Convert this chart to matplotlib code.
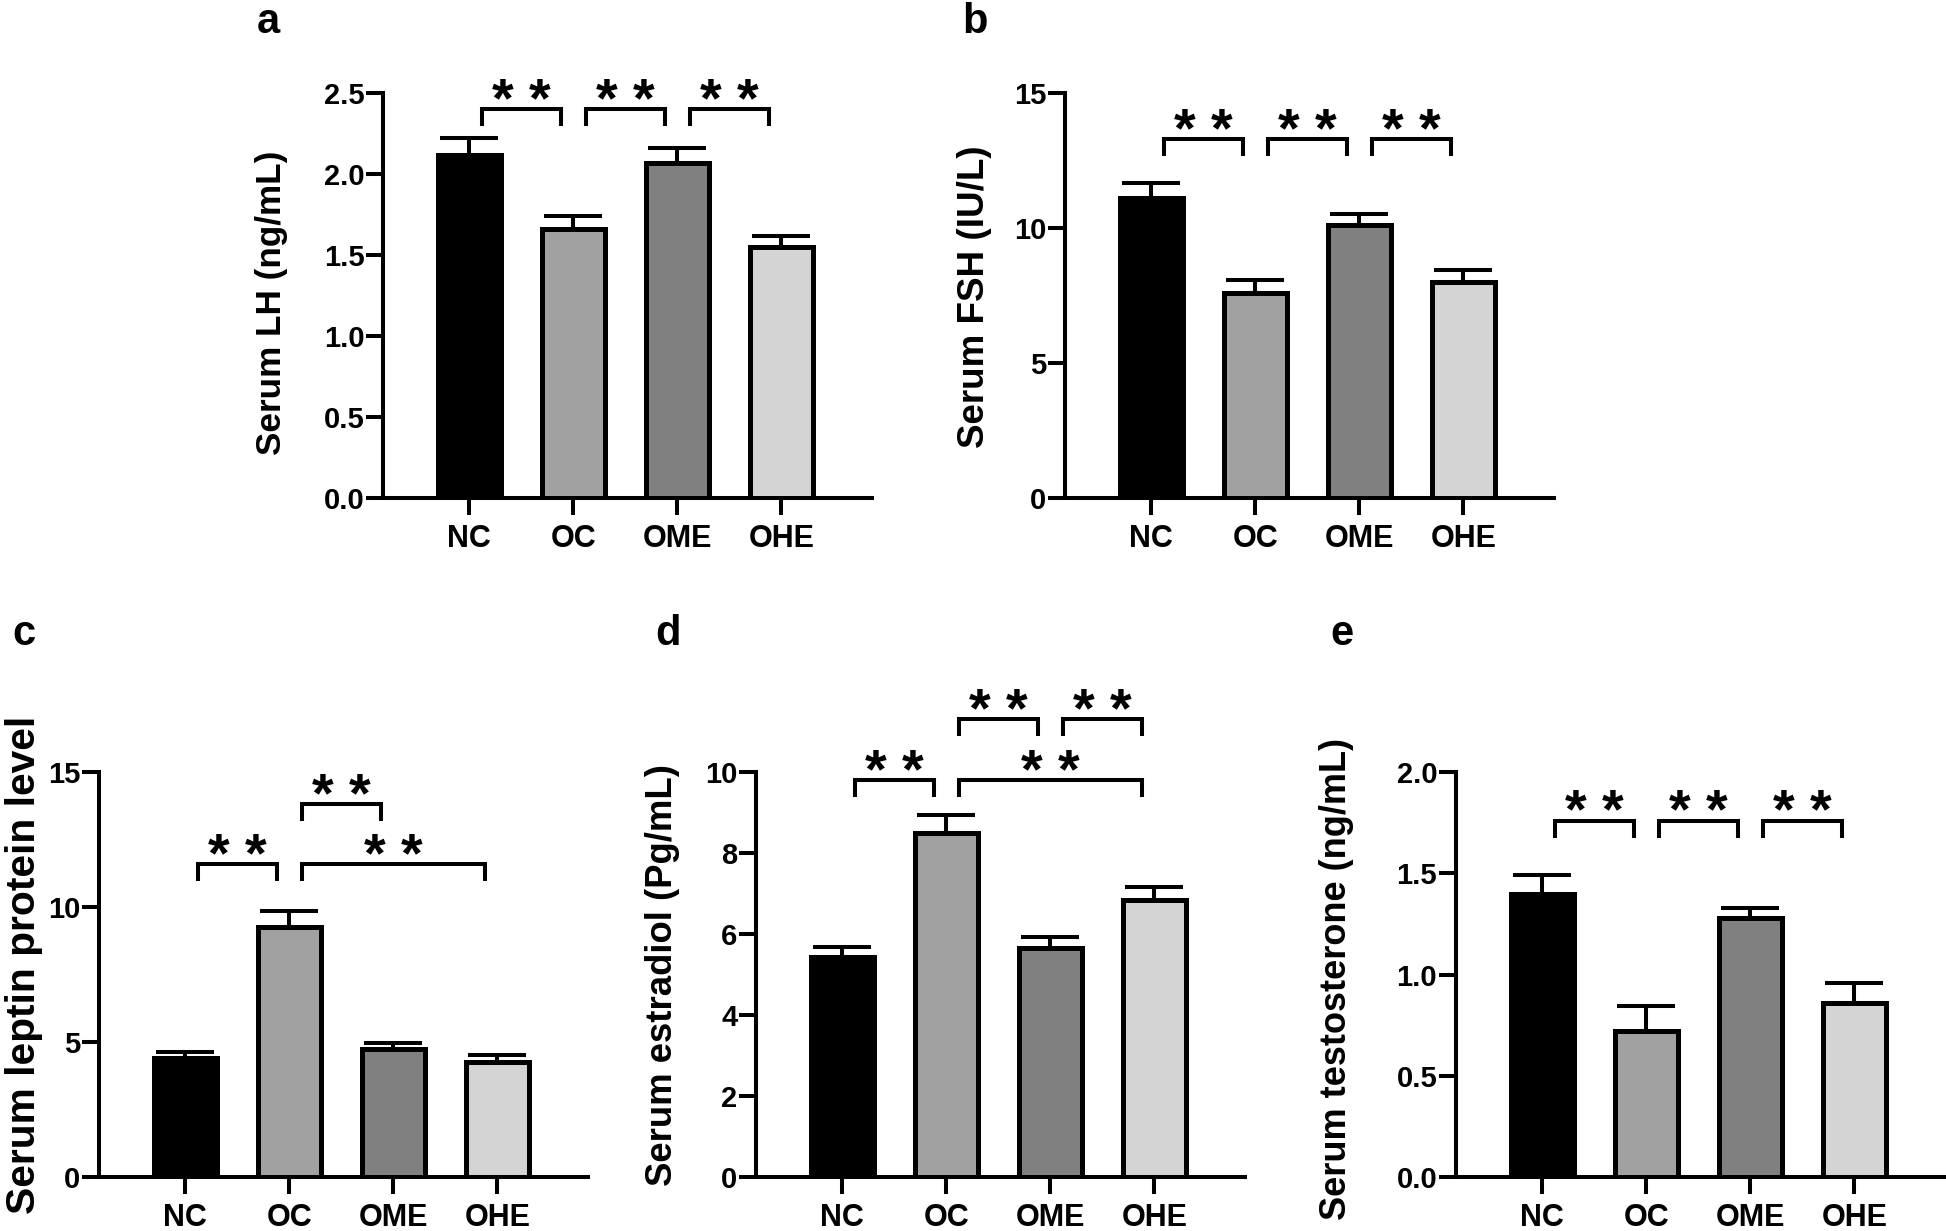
import matplotlib
matplotlib.use('Agg')
import matplotlib.pyplot as plt
import numpy as np

# Figure size in pixels (saved at dpi 100)
FIG_W, FIG_H = 1946, 1231
DPI = 100

plt.rcParams['font.family'] = ['Liberation Sans', 'DejaVu Sans']
plt.rcParams['font.weight'] = 'bold'

# --- data (mean + upper SEM) ---
groups = ['NC', 'OC', 'OME', 'OHE']
bar_colors = ['#000000', '#a0a0a0', '#808080', '#d4d4d4']

lh_mean = [2.12, 1.66, 2.07, 1.55]
lh_sem = [0.10, 0.08, 0.09, 0.07]

fsh_mean = [11.1, 7.6, 10.1, 8.0]
fsh_sem = [0.55, 0.47, 0.43, 0.45]

leptin_mean = [4.40, 9.25, 4.75, 4.25]
leptin_sem = [0.23, 0.60, 0.22, 0.27]

estradiol_mean = [5.42, 8.50, 5.65, 6.85]
estradiol_sem = [0.27, 0.43, 0.27, 0.32]

testo_mean = [1.40, 0.72, 1.28, 0.86]
testo_sem = [0.09, 0.125, 0.05, 0.10]

# significance comparisons: (group i, group j, bracket level)
lh_pairs = [(0, 1, 2.40), (1, 2, 2.40), (2, 3, 2.40)]
fsh_pairs = [(0, 1, 13.3), (1, 2, 13.3), (2, 3, 13.3)]
leptin_pairs = [(0, 1, 11.6), (1, 3, 11.6), (1, 2, 13.8)]
estradiol_pairs = [(0, 1, 9.8), (1, 3, 9.8), (1, 2, 11.3), (2, 3, 11.3)]
testo_pairs = [(0, 1, 1.76), (1, 2, 1.76), (2, 3, 1.76)]

LW = 2.9          # axis / bracket line width (pt)
TICK_FS = 21
XTICK_FS = 22
STAR_FS = 40


def px_rect(left, top, width=489, height=405):
    """Axes rectangle from pixel coordinates (top-left origin)."""
    return [left / FIG_W, 1 - (top + height) / FIG_H, width / FIG_W, height / FIG_H]


def add_stars(ax, pairs, ymax):
    leg = ymax * 0.042
    gap = ymax * 0.056
    for i, j, level in pairs:
        x0, x1 = i + 0.12, j - 0.12
        ax.plot([x0, x0, x1, x1], [level - leg, level, level, level - leg],
                color='black', lw=LW, clip_on=False, solid_capstyle='butt',
                solid_joinstyle='miter')
        ax.annotate('* *', xy=((x0 + x1) / 2, level + gap), xytext=(0, -0.55 * STAR_FS),
                    textcoords='offset points', ha='center', va='baseline',
                    fontsize=STAR_FS, fontweight='bold', annotation_clip=False)


def draw_panel(fig, rect, means, sems, ymax, step, fmt, pairs):
    ax = fig.add_axes(rect)
    x = np.arange(len(groups))
    ax.errorbar(x, means, yerr=[np.zeros(len(sems)), sems], fmt='none',
                ecolor='black', elinewidth=LW, capsize=21, capthick=LW, zorder=2)
    ax.bar(x, means, width=0.6, color=bar_colors, edgecolor='black',
           linewidth=3.6, zorder=3)

    ax.set_xlim(-0.83, 3.87)
    ax.set_ylim(0, ymax)
    ticks = np.arange(0, ymax + step / 2, step)
    ax.set_yticks(ticks)
    ax.set_yticklabels([fmt.format(t) for t in ticks], fontsize=TICK_FS, fontweight='bold')
    ax.set_xticks(x)
    ax.set_xticklabels(groups, fontsize=XTICK_FS, fontweight='bold')

    for side in ['top', 'right']:
        ax.spines[side].set_visible(False)
    for side in ['left', 'bottom']:
        ax.spines[side].set_linewidth(LW)
    ax.tick_params(axis='both', direction='out', length=12, width=LW)
    ax.tick_params(axis='y', pad=1.5)
    ax.tick_params(axis='x', pad=7)

    add_stars(ax, pairs, ymax)
    return ax


def label(fig, x_px, y_px, text, size):
    fig.text(x_px / FIG_W, 1 - y_px / FIG_H, text, rotation=90, ha='center',
             va='center', fontsize=size, fontweight='bold')


def letter(fig, x_px, y_px, text):
    fig.text(x_px / FIG_W, 1 - y_px / FIG_H, text, ha='left', va='baseline',
             fontsize=30, fontweight='bold')


def main():
    fig = plt.figure(figsize=(FIG_W / DPI, FIG_H / DPI), dpi=DPI)

    draw_panel(fig, px_rect(383, 93), lh_mean, lh_sem, 2.5, 0.5, '{:.1f}', lh_pairs)
    draw_panel(fig, px_rect(1065, 93), fsh_mean, fsh_sem, 15, 5, '{:.0f}', fsh_pairs)
    draw_panel(fig, px_rect(99, 772), leptin_mean, leptin_sem, 15, 5, '{:.0f}', leptin_pairs)
    draw_panel(fig, px_rect(756, 772), estradiol_mean, estradiol_sem, 10, 2, '{:.0f}', estradiol_pairs)
    draw_panel(fig, px_rect(1456, 772), testo_mean, testo_sem, 2.0, 0.5, '{:.1f}', testo_pairs)

    label(fig, 272, 303, 'Serum LH (ng/mL)', 25.3)
    label(fig, 975, 297, 'Serum FSH (IU/L)', 26.5)
    label(fig, 24, 965, 'Serum leptin protein level', 29.3)
    label(fig, 662, 975, 'Serum estradiol (Pg/mL)', 26.3)
    label(fig, 1337, 979, 'Serum testosterone (ng/mL)', 26)

    letter(fig, 257, 33, 'a')
    letter(fig, 962, 33, 'b')
    letter(fig, 12, 645, 'c')
    letter(fig, 655, 645, 'd')
    letter(fig, 1330, 645, 'e')

    fig.savefig('out.png', dpi=DPI)


if __name__ == '__main__':
    main()
